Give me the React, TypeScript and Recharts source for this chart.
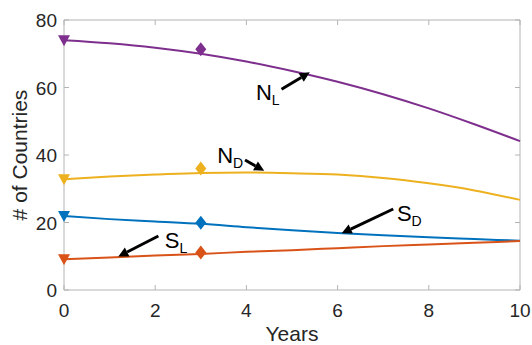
import {
  ComposedChart,
  Line,
  Scatter,
  XAxis,
  YAxis,
  ReferenceLine,
  ReferenceDot,
} from "recharts";

const YEARS = [0, 1, 2, 3, 4, 5, 6, 7, 8, 9, 10];
const N_L = [74, 73.1, 71.8, 70.0, 67.7, 64.9, 61.7, 58.0, 53.8, 49.1, 44.1];
const N_D = [32.8, 33.6, 34.2, 34.7, 34.8, 34.6, 34.2, 33.2, 31.6, 29.5, 26.7];
const S_D = [21.9, 21.0, 20.3, 19.6, 18.6, 17.7, 16.9, 16.2, 15.6, 15.1, 14.6];
const S_L = [9.1, 9.6, 10.2, 10.7, 11.3, 11.8, 12.4, 13.0, 13.5, 14.0, 14.5];

// observed points at year 3 (diamonds)
const MARK_YEAR = 3;
const MARKS = { nL: 71.3, nD: 36.0, sD: 19.9, sL: 11.1 };

const X_TICKS = [0, 2, 4, 6, 8, 10];
const Y_TICKS = [0, 20, 40, 60, 80];

const COLORS = { nL: "#7E2F8E", nD: "#EDB120", sD: "#0072BD", sL: "#D95319" };

const FONT = '"Liberation Sans", Arial, Helvetica, sans-serif';
const AXIS = "#b4b4b4";
const TEXT = "#262626";
const PLOT_W = 456;
const PLOT_H = 270;

const rows = YEARS.map((year, i) => ({
  year,
  nL: N_L[i],
  nD: N_D[i],
  sD: S_D[i],
  sL: S_L[i],
}));

const markerData = (series: number[], mark: number) => [
  { year: YEARS[0], value: series[0], kind: "start" },
  { year: MARK_YEAR, value: mark, kind: "mark" },
];

const makeMarker = (color: string) => (props: any) => {
  const { cx, cy, payload } = props;
  if (payload.kind === "start") {
    return (
      <polygon
        points={`${cx - 6},${cy - 5} ${cx + 6},${cy - 5} ${cx},${cy + 6}`}
        fill={color}
      />
    );
  }
  return (
    <polygon
      points={`${cx},${cy - 7} ${cx + 5.5},${cy} ${cx},${cy + 7} ${cx - 5.5},${cy}`}
      fill={color}
    />
  );
};

// annotation labels and arrows, in data units
const LABELS = [
  { main: "N", sub: "L", x: 4.21, y: 56.3 },
  { main: "N", sub: "D", x: 3.36, y: 37.5 },
  { main: "S", sub: "D", x: 7.3, y: 20.4 },
  { main: "S", sub: "L", x: 2.21, y: 12.4 },
];
const ARROWS = [
  { from: { x: 4.77, y: 59.5 }, to: { x: 5.39, y: 64.5 } },
  { from: { x: 3.97, y: 38.5 }, to: { x: 4.39, y: 35.3 } },
  { from: { x: 7.22, y: 24.0 }, to: { x: 6.09, y: 16.8 } },
  { from: { x: 2.07, y: 16.0 }, to: { x: 1.19, y: 9.9 } },
];

const Arrow = (props: any) => {
  const { x1, y1, x2, y2 } = props;
  const dx = x2 - x1;
  const dy = y2 - y1;
  const len = Math.sqrt(dx * dx + dy * dy) || 1;
  const ux = dx / len;
  const uy = dy / len;
  const hl = 10;
  const hw = 5;
  const bx = x2 - ux * hl;
  const by = y2 - uy * hl;
  return (
    <g>
      <line x1={x1} y1={y1} x2={bx} y2={by} stroke="#000" strokeWidth={3} />
      <polygon
        points={`${x2},${y2} ${bx - uy * hw},${by + ux * hw} ${bx + uy * hw},${by - ux * hw}`}
        fill="#000"
      />
    </g>
  );
};

const XTick = (props: any) => {
  const { x, y, payload } = props;
  return (
    <g>
      <line x1={x} y1={y} x2={x} y2={y - 5} stroke={AXIS} />
      <line x1={x} y1={y - PLOT_H} x2={x} y2={y - PLOT_H + 5} stroke={AXIS} />
      <text
        x={x}
        y={y + 27}
        textAnchor="middle"
        fontSize={19}
        fontFamily={FONT}
        fill={TEXT}
      >
        {payload.value}
      </text>
    </g>
  );
};

const YTick = (props: any) => {
  const { x, y, payload } = props;
  const ax = x + 7;
  return (
    <g>
      <line x1={ax} y1={y} x2={ax + 5} y2={y} stroke={AXIS} />
      <line x1={ax + PLOT_W} y1={y} x2={ax + PLOT_W - 5} y2={y} stroke={AXIS} />
      <text
        x={x}
        y={y + 7}
        textAnchor="end"
        fontSize={19}
        fontFamily={FONT}
        fill={TEXT}
      >
        {payload.value}
      </text>
    </g>
  );
};

const AnnotationText = (label: { main: string; sub: string }) => (props: any) => {
  const { viewBox } = props;
  return (
    <text x={viewBox.x} y={viewBox.y} fontSize={22} fontFamily={FONT} fill="#000">
      {label.main}
      <tspan fontSize={14} dy={5}>
        {label.sub}
      </tspan>
    </text>
  );
};

export default function App() {
  return (
    <div style={{ position: "absolute", left: 0, top: 0, background: "#fff" }}>
      <ComposedChart
        width={532}
        height={345}
        data={rows}
        margin={{ top: 20, right: 12, bottom: 25, left: 0 }}
      >
        <XAxis
          dataKey="year"
          type="number"
          domain={[0, 10]}
          ticks={X_TICKS}
          tickSize={0}
          tickMargin={0}
          tick={<XTick />}
          axisLine={{ stroke: AXIS }}
          height={30}
          label={(p: any) => (
            <text
              x={p.viewBox.x + p.viewBox.width / 2}
              y={p.viewBox.y + 51}
              textAnchor="middle"
              fontSize={21}
              fontFamily={FONT}
              fill={TEXT}
            >
              Years
            </text>
          )}
        />
        <YAxis
          type="number"
          domain={[0, 80]}
          ticks={Y_TICKS}
          tickSize={0}
          tickMargin={7}
          tick={<YTick />}
          axisLine={{ stroke: AXIS }}
          width={64}
          label={(p: any) => {
            const cx = p.viewBox.x + 19;
            const cy = p.viewBox.y + p.viewBox.height / 2;
            return (
              <text
                x={cx}
                y={cy}
                transform={`rotate(-90, ${cx}, ${cy})`}
                textAnchor="middle"
                dominantBaseline="central"
                fontSize={21}
                fontFamily={FONT}
                fill={TEXT}
              >
                # of Countries
              </text>
            );
          }}
        />
        <ReferenceLine y={80} stroke={AXIS} />
        <ReferenceLine x={10} stroke={AXIS} />

        <Line type="monotone" dataKey="nL" stroke={COLORS.nL} strokeWidth={2} dot={false} isAnimationActive={false} />
        <Line type="monotone" dataKey="nD" stroke={COLORS.nD} strokeWidth={2} dot={false} isAnimationActive={false} />
        <Line type="monotone" dataKey="sD" stroke={COLORS.sD} strokeWidth={2} dot={false} isAnimationActive={false} />
        <Line type="monotone" dataKey="sL" stroke={COLORS.sL} strokeWidth={2} dot={false} isAnimationActive={false} />

        <Scatter data={markerData(N_L, MARKS.nL)} dataKey="value" shape={makeMarker(COLORS.nL)} isAnimationActive={false} />
        <Scatter data={markerData(N_D, MARKS.nD)} dataKey="value" shape={makeMarker(COLORS.nD)} isAnimationActive={false} />
        <Scatter data={markerData(S_D, MARKS.sD)} dataKey="value" shape={makeMarker(COLORS.sD)} isAnimationActive={false} />
        <Scatter data={markerData(S_L, MARKS.sL)} dataKey="value" shape={makeMarker(COLORS.sL)} isAnimationActive={false} />

        {ARROWS.map((a, i) => (
          <ReferenceLine key={`arrow-${i}`} segment={[a.from, a.to]} shape={Arrow} />
        ))}
        {LABELS.map((l, i) => (
          <ReferenceDot
            key={`label-${i}`}
            x={l.x}
            y={l.y}
            r={0}
            fill="none"
            stroke="none"
            label={AnnotationText(l)}
          />
        ))}
      </ComposedChart>
    </div>
  );
}
